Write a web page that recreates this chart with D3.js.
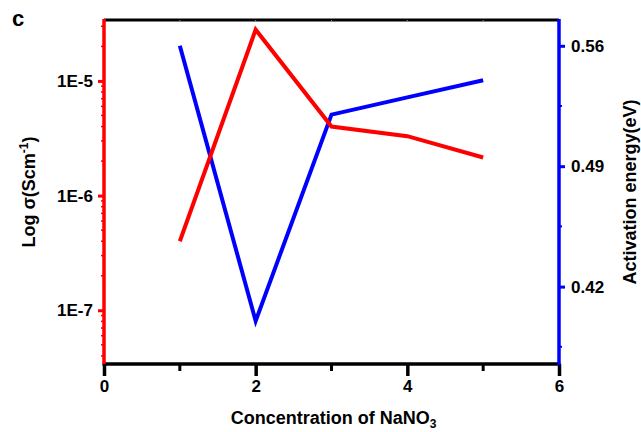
<!DOCTYPE html>
<html>
<head>
<meta charset="utf-8">
<script src="https://cdn.jsdelivr.net/npm/d3@7"></script>
<style>
  html, body { margin: 0; padding: 0; background: #fff; }
  svg { display: block; font-family: "Liberation Sans", Arial, Helvetica, sans-serif; font-weight: bold; }
</style>
</head>
<body>
<svg id="chart" width="641" height="432"></svg>
<script>
// NaNO3 concentration (x) for both series
const concentration = [1, 2, 3, 4, 5];
// Ionic conductivity, S/cm (left, log scale)
const conductivity = [4.0e-7, 2.8e-5, 4.0e-6, 3.3e-6, 2.15e-6];
// Activation energy, eV (right axis)
const activationEnergy = [0.560, 0.400, 0.520, 0.530, 0.540];

const xTicks = [0, 2, 4, 6];
const xMinorTicks = [1, 3, 5];
const leftTicks = [1e-5, 1e-6, 1e-7];
const leftTickLabels = ["1E-5", "1E-6", "1E-7"];
const rightTicks = [0.56, 0.49, 0.42];
const rightMinorTicks = [0.525, 0.455, 0.385];

const svg = d3.select("#chart");
const m = { left: 104, right: 559, top: 20, bottom: 364 };

const x = d3.scaleLinear().domain([0, 6]).range([m.left, m.right]);
const yL = d3.scaleLog().domain([3.4e-8, 3.4e-5]).range([m.bottom, m.top]);
const yR = d3.scaleLinear().domain([0.375, 0.575]).range([m.bottom, m.top]);

const RED = "#ff0000", BLUE = "#0000ff";

// top frame line
svg.append("line")
  .attr("x1", m.left).attr("x2", m.right)
  .attr("y1", m.top).attr("y2", m.top)
  .attr("stroke", "#000").attr("stroke-width", 3);

// small inner ticks on the top frame
svg.selectAll(".topTick").data([1, 2, 3, 4, 5]).enter().append("line")
  .attr("x1", d => x(d)).attr("x2", d => x(d))
  .attr("y1", m.top).attr("y2", m.top + 2)
  .attr("stroke", "#888").attr("stroke-width", 1);

// bottom x axis
const xAxis = svg.append("g").attr("transform", `translate(0,${m.bottom})`)
  .call(d3.axisBottom(x).tickValues(xTicks).tickFormat(d3.format("d")).tickSize(12).tickPadding(4));
xAxis.select(".domain").attr("stroke", "#000").attr("stroke-width", 3.5)
  .attr("d", `M${m.left - 1.5},0H${m.right + 1.5}`);
xAxis.selectAll(".tick line").attr("stroke", "#000").attr("stroke-width", 3.5);
xAxis.selectAll(".tick text").attr("fill", "#000").attr("font-size", 17)
  .attr("font-family", null).attr("font-weight", "bold");
xAxis.selectAll(".minor").data(xMinorTicks).enter().append("line")
  .attr("x1", d => x(d)).attr("x2", d => x(d))
  .attr("y1", 0).attr("y2", 7)
  .attr("stroke", "#000").attr("stroke-width", 3);

// left log axis (red)
const left = svg.append("g").attr("transform", `translate(${m.left},0)`)
  .call(d3.axisLeft(yL).tickValues(leftTicks)
    .tickFormat((d, i) => leftTickLabels[i]).tickSize(6).tickPadding(5));
left.select(".domain").attr("stroke", RED).attr("stroke-width", 3.5)
  .attr("d", `M0,${m.top - 1}V${m.bottom}`);
left.selectAll(".tick line").attr("stroke", RED).attr("stroke-width", 3);
left.selectAll(".tick text").attr("fill", "#000").attr("font-size", 17)
  .attr("font-family", null).attr("font-weight", "bold");
const leftMinor = yL.ticks().filter(d => !leftTicks.some(t => Math.abs(t - d) / t < 1e-9));
left.selectAll(".minor").data(leftMinor).enter().append("line")
  .attr("x1", -3).attr("x2", 0)
  .attr("y1", d => yL(d)).attr("y2", d => yL(d))
  .attr("stroke", RED).attr("stroke-width", 1.5);

// right linear axis (blue)
const right = svg.append("g").attr("transform", `translate(${m.right},0)`)
  .call(d3.axisRight(yR).tickValues(rightTicks).tickFormat(d3.format(".2f")).tickSize(6).tickPadding(6));
right.select(".domain").attr("stroke", BLUE).attr("stroke-width", 3.5)
  .attr("d", `M0,${m.top - 1}V${m.bottom + 1}`);
right.selectAll(".tick line").attr("stroke", BLUE).attr("stroke-width", 3);
right.selectAll(".tick text").attr("fill", "#000").attr("font-size", 17)
  .attr("font-family", null).attr("font-weight", "bold");
right.selectAll(".minor").data(rightMinorTicks).enter().append("line")
  .attr("x1", 0).attr("x2", 3)
  .attr("y1", d => yR(d)).attr("y2", d => yR(d))
  .attr("stroke", BLUE).attr("stroke-width", 2);

// data lines
const condLine = d3.line().x((d, i) => x(concentration[i])).y(d => yL(d));
const eaLine = d3.line().x((d, i) => x(concentration[i])).y(d => yR(d));

svg.append("path").datum(activationEnergy)
  .attr("d", eaLine).attr("fill", "none")
  .attr("stroke", BLUE).attr("stroke-width", 4).attr("stroke-linejoin", "miter");
svg.append("path").datum(conductivity)
  .attr("d", condLine).attr("fill", "none")
  .attr("stroke", RED).attr("stroke-width", 4).attr("stroke-linejoin", "miter");

// axis titles
const xt = svg.append("text")
  .attr("x", (m.left + m.right) / 2 + 2).attr("y", 424)
  .attr("text-anchor", "middle").attr("font-size", 18).attr("fill", "#000");
xt.append("tspan").text("Concentration of NaNO");
xt.append("tspan").text("3").attr("font-size", 12).attr("dy", 4);

const yt = svg.append("text")
  .attr("transform", `translate(35,${(m.top + m.bottom) / 2}) rotate(-90)`)
  .attr("text-anchor", "middle").attr("font-size", 18).attr("fill", "#000");
yt.append("tspan").text("Log σ(Scm");
yt.append("tspan").text("-1").attr("font-size", 12).attr("dy", -7);
yt.append("tspan").text(")").attr("dy", 7);

svg.append("text")
  .attr("transform", `translate(636,${(m.top + m.bottom) / 2}) rotate(-90)`)
  .attr("text-anchor", "middle").attr("font-size", 18).attr("fill", "#000")
  .text("Activation energy(eV)");

// panel letter
svg.append("text").attr("x", 12).attr("y", 26)
  .attr("font-size", 22).attr("fill", "#000").text("c");
</script>
</body>
</html>
